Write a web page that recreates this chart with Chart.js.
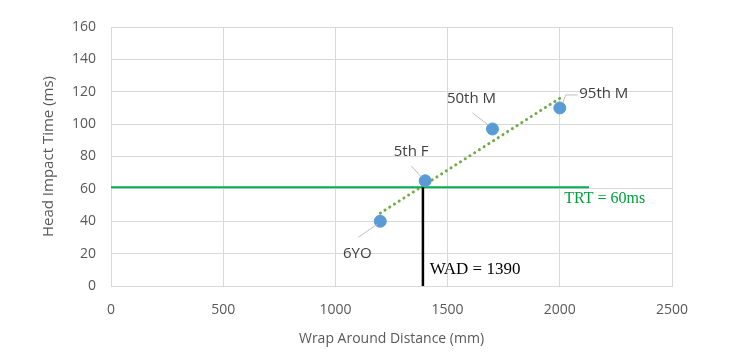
<!DOCTYPE html>
<html>
<head>
<meta charset="utf-8">
<script src="https://cdn.jsdelivr.net/npm/chart.js@4/dist/chart.umd.min.js"></script>
<style>
  html, body { margin: 0; padding: 0; background: #fff; }
  #wrap { width: 741px; height: 359px; }
</style>
</head>
<body>
<div id="wrap"><canvas id="myChart" width="741" height="359"></canvas></div>
<script>
// measured points
const wadX = [1200, 1400, 1700, 2000];
const hitY = [40, 65, 97, 110];
const pointLabels = ["6YO", "5th F", "50th M", "95th M"];

// dotted trendline ends
const trendX = [1200, 2000];
const trendY = [45, 116];

// threshold lines
const trtX = [0, 2130];
const trtY = [61, 61];
const wadLineX = [1390, 1390];
const wadLineY = [0, 61];

const xTicks = [0, 500, 1000, 1500, 2000, 2500];
const yTicks = [0, 20, 40, 60, 80, 100, 120, 140, 160];

function pairs(xs, ys) {
  return xs.map((x, i) => ({ x: x, y: ys[i] }));
}

// label offsets in px from the point, plus leader path
const labelStyle = [
  { dx: -23, dy: 32, leader: [[-3, 3], [-22, 16]] },
  { dx: -14, dy: -29, leader: [[-4, -4], [-14, -15]] },
  { dx: -21, dy: -30, leader: [[-4, -4], [-20, -16]] },
  { dx: 44, dy: -14, leader: [[3, -5], [6, -13], [18, -13]] },
];

const annotatePlugin = {
  id: "annotate",
  afterDatasetsDraw(chart) {
    const ctx = chart.ctx;
    const xs = chart.scales.x;
    const ys = chart.scales.y;
    ctx.save();
    for (let i = 0; i < wadX.length; i++) {
      let px = xs.getPixelForValue(wadX[i]);
      let py = ys.getPixelForValue(hitY[i]);
      let st = labelStyle[i];
      ctx.strokeStyle = "#bfbfbf";
      ctx.lineWidth = 1;
      ctx.beginPath();
      st.leader.forEach((p, j) => {
        if (j == 0) ctx.moveTo(px + p[0], py + p[1]);
        else ctx.lineTo(px + p[0], py + p[1]);
      });
      ctx.stroke();
      ctx.fillStyle = "#404040";
      ctx.font = "15px 'Open Sans'";
      ctx.textAlign = "center";
      ctx.textBaseline = "middle";
      ctx.fillText(pointLabels[i], px + st.dx, py + st.dy);
    }
    // TRT text
    ctx.font = "16px 'Liberation Serif'";
    ctx.fillStyle = "#00a03c";
    ctx.textAlign = "left";
    ctx.fillText("TRT = 60ms", xs.getPixelForValue(2020), ys.getPixelForValue(54));
    // WAD text
    ctx.fillStyle = "#000";
    ctx.font = "17px 'Liberation Serif'";
    ctx.fillText("WAD = 1390", xs.getPixelForValue(1420), ys.getPixelForValue(10));
    ctx.restore();
  },
};

const ctx = document.getElementById("myChart").getContext("2d");
const chart = new Chart(ctx, {
  type: "scatter",
  data: {
    datasets: [
      {
        label: "trend",
        data: pairs(trendX, trendY),
        showLine: true,
        borderColor: "#70ad47",
        borderWidth: 3,
        borderDash: [0.1, 5.5],
        borderCapStyle: "round",
        pointRadius: 0,
        order: 3,
      },
      {
        label: "TRT",
        data: pairs(trtX, trtY),
        showLine: true,
        borderColor: "#00b050",
        borderWidth: 2,
        pointRadius: 0,
        order: 2,
      },
      {
        label: "WAD",
        data: pairs(wadLineX, wadLineY),
        showLine: true,
        borderColor: "#000000",
        borderWidth: 2.5,
        pointRadius: 0,
        order: 1,
      },
      {
        label: "HIT",
        data: pairs(wadX, hitY),
        backgroundColor: "#5b9bd5",
        borderColor: "#5b9bd5",
        pointRadius: 6,
        order: 0,
      },
    ],
  },
  options: {
    responsive: false,
    animation: false,
    layout: { padding: { top: 27, right: 69, left: 40, bottom: 12 } },
    plugins: { legend: { display: false }, tooltip: { enabled: false } },
    scales: {
      x: {
        type: "linear",
        min: 0,
        max: 2500,
        afterBuildTicks: (s) => { s.ticks = xTicks.map((v) => ({ value: v })); },
        afterFit: (s) => { s.height = 61; },
        grid: { color: "#d9d9d9", drawTicks: false },
        border: { color: "#d9d9d9" },
        ticks: {
          color: "#595959",
          font: { size: 14, family: "'Open Sans'" },
          padding: 16,
          callback: (v) => String(v),
        },
        title: {
          display: true,
          text: "Wrap Around Distance (mm)",
          color: "#595959",
          font: { size: 14, family: "'Open Sans'" },
          padding: { top: 4, bottom: 0 },
        },
      },
      y: {
        type: "linear",
        min: 0,
        max: 160,
        afterBuildTicks: (s) => { s.ticks = yTicks.map((v) => ({ value: v })); },
        afterFit: (s) => { s.width = 71; },
        grid: { color: "#d9d9d9", drawTicks: false },
        border: { color: "#d9d9d9" },
        ticks: {
          color: "#595959",
          font: { size: 14, family: "'Open Sans'" },
          padding: 15,
          callback: (v) => String(v),
        },
        title: {
          display: true,
          text: "Head Impact Time (ms)",
          color: "#595959",
          font: { size: 15, family: "'Open Sans'" },
          padding: { top: 0, bottom: 0 },
        },
      },
    },
  },
  plugins: [annotatePlugin],
});
</script>
</body>
</html>
